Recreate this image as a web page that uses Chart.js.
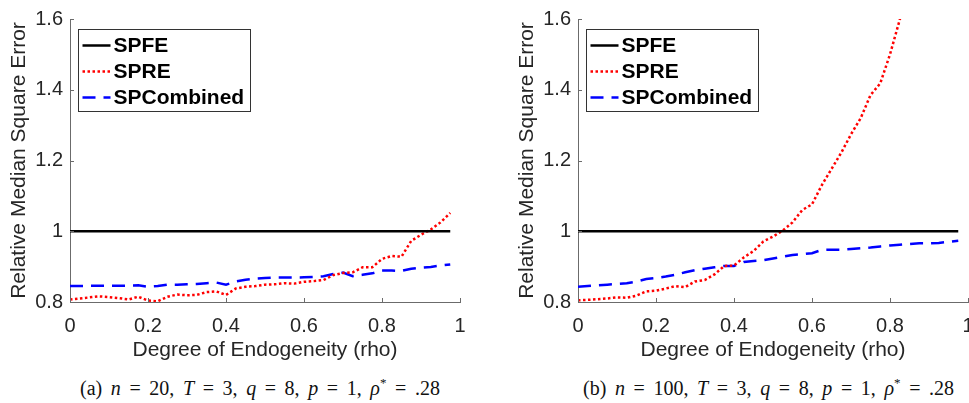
<!DOCTYPE html>
<html>
<head>
<meta charset="utf-8">
<script src="https://cdn.jsdelivr.net/npm/chart.js@4/dist/chart.umd.min.js"></script>
<style>
  html, body { margin: 0; padding: 0; background: #fff; width: 969px; height: 403px; overflow: hidden; }
  .panel { position: absolute; top: 0; }
  .cap { position: absolute; top: 375px; font-family: "Liberation Serif", serif; font-size: 20px; word-spacing: 3.6px; color: #111; white-space: nowrap; }
  .cap i { font-style: italic; }
  .cap sup { font-size: 13px; }
</style>
</head>
<body>
<div class="panel" style="left:0px"><canvas id="chartA" width="480" height="370"></canvas></div>
<div class="panel" style="left:508px"><canvas id="chartB" width="480" height="370"></canvas></div>
<div class="cap" style="left:80px">(a) <i>n</i> = 20, <i>T</i> = 3, <i>q</i> = 8, <i>p</i> = 1, <i>ρ</i><sup>*</sup> = .28</div>
<div class="cap" style="left:583px">(b) <i>n</i> = 100, <i>T</i> = 3, <i>q</i> = 8, <i>p</i> = 1, <i>ρ</i><sup>*</sup> = .28</div>
<script>
// degree of endogeneity, step .025
const rho = [0, 0.025, 0.05, 0.075, 0.1, 0.125, 0.15, 0.175, 0.2, 0.225,
  0.25, 0.275, 0.3, 0.325, 0.35, 0.375, 0.4, 0.425, 0.45, 0.475,
  0.5, 0.525, 0.55, 0.575, 0.6, 0.625, 0.65, 0.675, 0.7, 0.725,
  0.75, 0.775, 0.8, 0.825, 0.85, 0.875, 0.9, 0.925, 0.95, 0.975];

const spfe = rho.map(() => 1);

// panel (a) n = 20
const spreA = [0.807, 0.810, 0.813, 0.816, 0.814, 0.811, 0.807, 0.815, 0.804, 0.802,
  0.815, 0.821, 0.819, 0.820, 0.828, 0.830, 0.820, 0.838, 0.843, 0.845,
  0.849, 0.850, 0.853, 0.852, 0.857, 0.859, 0.862, 0.876, 0.882, 0.884,
  0.898, 0.898, 0.922, 0.930, 0.928, 0.973, 0.990, 1.005, 1.025, 1.052];
const spcA = [0.845, 0.845, 0.846, 0.846, 0.846, 0.846, 0.846, 0.847, 0.843, 0.845,
  0.849, 0.849, 0.850, 0.851, 0.853, 0.855, 0.849, 0.858, 0.863, 0.866,
  0.868, 0.869, 0.869, 0.869, 0.870, 0.871, 0.873, 0.879, 0.883, 0.873,
  0.877, 0.881, 0.889, 0.889, 0.888, 0.894, 0.897, 0.899, 0.903, 0.906];

// panel (b) n = 100 (SPRE leaves the axes above 1.6)
const spreB = [0.805, 0.806, 0.808, 0.810, 0.813, 0.812, 0.818, 0.830, 0.832, 0.838,
  0.845, 0.842, 0.858, 0.862, 0.878, 0.902, 0.903, 0.926, 0.944, 0.971,
  0.985, 1.002, 1.025, 1.060, 1.076, 1.130, 1.176, 1.222, 1.274, 1.320,
  1.385, 1.418, 1.500, 1.598, 1.690];
const spcB = [0.843, 0.845, 0.847, 0.849, 0.851, 0.853, 0.858, 0.865, 0.868, 0.872,
  0.877, 0.884, 0.890, 0.894, 0.898, 0.902, 0.902, 0.913, 0.916, 0.918,
  0.923, 0.928, 0.933, 0.935, 0.938, 0.947, 0.948, 0.948, 0.950, 0.952,
  0.954, 0.957, 0.960, 0.962, 0.964, 0.966, 0.966, 0.967, 0.970, 0.973];

const xTicks = [0, 0.2, 0.4, 0.6, 0.8, 1];
const xTickLabels = ['0', '0.2', '0.4', '0.6', '0.8', '1'];
const yTicks = [0.8, 1, 1.2, 1.4, 1.6];
const yTickLabels = ['0.8', '1', '1.2', '1.4', '1.6'];

const axisColor = '#6b6b6b';
const textColor = '#262626';

const pts = (ys) => ys.map((v, i) => ({ x: rho[i], y: v }));

// MATLAB-style ticks pointing into the axes
const inwardTicks = {
  id: 'inwardTicks',
  afterDatasetsDraw(chart) {
    const { ctx, chartArea: a, scales: { x, y } } = chart;
    ctx.save();
    ctx.strokeStyle = axisColor;
    ctx.lineWidth = 1;
    xTicks.forEach(v => {
      const px = Math.round(x.getPixelForValue(v)) + 0.5;
      ctx.beginPath(); ctx.moveTo(px, a.bottom); ctx.lineTo(px, a.bottom - 4); ctx.stroke();
    });
    yTicks.forEach(v => {
      const py = Math.round(y.getPixelForValue(v)) + 0.5;
      ctx.beginPath(); ctx.moveTo(a.left, py); ctx.lineTo(a.left + 4, py); ctx.stroke();
    });
    ctx.restore();
  }
};

// boxed legend in the upper left corner of the axes
const boxLegend = {
  id: 'boxLegend',
  afterDraw(chart) {
    const { ctx, chartArea: a } = chart;
    const bx = a.left + 8.5, by = a.top + 10.5, bw = 172, bh = 82;
    ctx.save();
    ctx.fillStyle = '#fff';
    ctx.fillRect(bx, by, bw, bh);
    ctx.strokeStyle = '#333';
    ctx.lineWidth = 1;
    ctx.strokeRect(bx, by, bw, bh);
    ctx.font = 'bold 21px "Liberation Sans", Arial, sans-serif';
    ctx.textBaseline = 'middle';
    chart.data.datasets.forEach((ds, i) => {
      const cy = by + 16 + i * 26;
      ctx.strokeStyle = ds.borderColor;
      ctx.lineWidth = ds.borderWidth;
      ctx.setLineDash(ds.borderDash || []);
      ctx.beginPath(); ctx.moveTo(bx + 4, cy); ctx.lineTo(bx + 32, cy); ctx.stroke();
      ctx.setLineDash([]);
      ctx.fillStyle = '#000';
      ctx.fillText(ds.label, bx + 35, cy + 1);
    });
    ctx.restore();
  }
};

function makeChart(id, spre, spc) {
  return new Chart(document.getElementById(id), {
    type: 'line',
    data: {
      datasets: [
        { label: 'SPFE', data: pts(spfe), borderColor: '#000', borderWidth: 2.5 },
        { label: 'SPRE', data: pts(spre), borderColor: '#ff0000', borderWidth: 2.5, borderDash: [2.5, 2.5] },
        { label: 'SPCombined', data: pts(spc), borderColor: '#0000ff', borderWidth: 2.5, borderDash: [13, 8] }
      ]
    },
    options: {
      responsive: false,
      animation: false,
      layout: { padding: { top: 13, right: 20, bottom: 0, left: 0 } },
      elements: { point: { radius: 0 }, line: { tension: 0 } },
      plugins: { legend: { display: false }, tooltip: { enabled: false } },
      scales: {
        x: {
          type: 'linear', min: 0, max: 1,
          afterBuildTicks: s => { s.ticks = xTicks.map(v => ({ value: v })); },
          afterFit: s => { s.height = 68; },
          ticks: { padding: 12, color: textColor, font: { family: '"Liberation Sans", Arial', size: 20 },
                   maxRotation: 0, callback: (v, i) => xTickLabels[i] },
          grid: { drawOnChartArea: false, drawTicks: false },
          border: { display: true, color: axisColor, width: 1 },
          title: { display: true, text: 'Degree of Endogeneity (rho)', color: textColor,
                   font: { family: '"Liberation Sans", Arial', size: 21 }, padding: { top: 0, bottom: 7 } }
        },
        y: {
          min: 0.8, max: 1.6,
          afterBuildTicks: s => { s.ticks = yTicks.map(v => ({ value: v })); },
          afterFit: s => { s.width = 70; },
          ticks: { padding: 7, color: textColor, font: { family: '"Liberation Sans", Arial', size: 20 },
                   callback: (v, i) => yTickLabels[i] },
          grid: { drawOnChartArea: false, drawTicks: false },
          border: { display: true, color: axisColor, width: 1 },
          title: { display: true, text: 'Relative Median Square Error', color: textColor,
                   font: { family: '"Liberation Sans", Arial', size: 21 }, padding: { top: 7, bottom: 0 } }
        }
      }
    },
    plugins: [inwardTicks, boxLegend]
  });
}

makeChart('chartA', spreA, spcA);
makeChart('chartB', spreB, spcB);
</script>
</body>
</html>
